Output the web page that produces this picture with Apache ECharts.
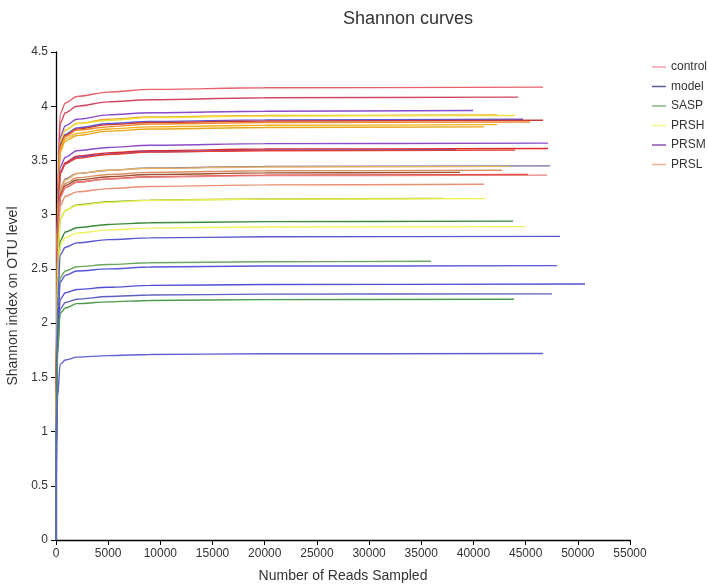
<!DOCTYPE html>
<html>
<head>
<meta charset="utf-8">
<title>Shannon curves</title>
<script src="https://cdn.jsdelivr.net/npm/echarts@6/dist/echarts.min.js"></script>
<style>
  html, body { margin: 0; padding: 0; background: #fff; }
  #chart { width: 708px; height: 584px; }
</style>
</head>
<body>
<div id="chart"></div>
<script>
// groups shown in the legend
const groups = ['control', 'model', 'SASP', 'PRSH', 'PRSM', 'PRSL'];

// reads sampled at each step of a curve (the last point is the sample's depth)
const readSteps = [0, 20, 60, 150, 400, 900, 2000, 5000, 9000, 20000];

// one entry per sample curve
const curveGroup = [
  'control', 'control', 'PRSM', 'PRSL', 'PRSH', 'model', 'control', 'PRSL',
  'PRSL', 'PRSL', 'PRSM', 'control', 'PRSM', 'control', 'model', 'PRSL',
  'PRSL', 'PRSL', 'control', 'control', 'PRSL', 'SASP', 'PRSH', 'SASP',
  'PRSH', 'model', 'SASP', 'model', 'model', 'model', 'SASP', 'model'
];
const curveDepth = [
  46670, 44280, 39970, 42270, 43990, 44760, 46670, 45430,
  42270, 41000, 47150, 47150, 38340, 44000, 47340, 43510,
  42740, 38720, 45230, 47060, 41020, 37090, 41110, 43800,
  44950, 48300, 35940, 48010, 50690, 47530, 43890, 46670
];
const curveShannon = [
  [0, 1.00, 2.09, 3.22, 3.93, 4.03, 4.09, 4.13, 4.155, 4.17, 4.176],
  [0, 0.98, 2.04, 3.14, 3.84, 3.94, 4.00, 4.04, 4.06, 4.078, 4.084],
  [0, 0.95, 1.98, 3.05, 3.72, 3.82, 3.88, 3.92, 3.94, 3.954, 3.96],
  [0, 0.94, 1.96, 3.02, 3.68, 3.78, 3.84, 3.88, 3.90, 3.914, 3.92],
  [0, 0.94, 1.96, 3.01, 3.68, 3.78, 3.84, 3.87, 3.895, 3.91, 3.915],
  [0, 0.93, 1.94, 2.99, 3.65, 3.74, 3.80, 3.84, 3.86, 3.874, 3.88],
  [0, 0.93, 1.94, 2.98, 3.64, 3.73, 3.79, 3.83, 3.85, 3.864, 3.87],
  [0, 0.93, 1.93, 2.97, 3.62, 3.72, 3.78, 3.81, 3.836, 3.85, 3.855],
  [0, 0.92, 1.92, 2.95, 3.60, 3.70, 3.75, 3.79, 3.81, 3.824, 3.83],
  [0, 0.91, 1.91, 2.93, 3.58, 3.68, 3.73, 3.77, 3.79, 3.804, 3.81],
  [0, 0.88, 1.83, 2.82, 3.44, 3.53, 3.59, 3.62, 3.64, 3.655, 3.66],
  [0, 0.87, 1.81, 2.78, 3.39, 3.48, 3.54, 3.57, 3.59, 3.605, 3.61],
  [0, 0.86, 1.80, 2.77, 3.38, 3.47, 3.53, 3.56, 3.58, 3.595, 3.60],
  [0, 0.86, 1.80, 2.77, 3.38, 3.47, 3.52, 3.555, 3.577, 3.59, 3.595],
  [0, 0.83, 1.73, 2.66, 3.24, 3.33, 3.38, 3.41, 3.43, 3.445, 3.45],
  [0, 0.83, 1.72, 2.65, 3.24, 3.32, 3.38, 3.41, 3.428, 3.44, 3.445],
  [0, 0.82, 1.71, 2.63, 3.21, 3.29, 3.34, 3.37, 3.39, 3.405, 3.41],
  [0, 0.81, 1.70, 2.61, 3.19, 3.27, 3.32, 3.35, 3.37, 3.385, 3.39],
  [0, 0.81, 1.69, 2.59, 3.17, 3.25, 3.30, 3.33, 3.35, 3.365, 3.37],
  [0, 0.81, 1.68, 2.59, 3.16, 3.25, 3.30, 3.33, 3.348, 3.36, 3.365],
  [0, 0.79, 1.64, 2.53, 3.08, 3.17, 3.21, 3.24, 3.26, 3.275, 3.28],
  [0, 0.76, 1.58, 2.43, 2.96, 3.04, 3.09, 3.12, 3.134, 3.145, 3.15],
  [0, 0.76, 1.57, 2.42, 2.96, 3.04, 3.085, 3.113, 3.132, 3.143, 3.148],
  [0, 0.71, 1.47, 2.26, 2.76, 2.84, 2.88, 2.91, 2.925, 2.936, 2.94],
  [0, 0.69, 1.45, 2.23, 2.72, 2.79, 2.83, 2.86, 2.876, 2.886, 2.89],
  [0, 0.67, 1.40, 2.16, 2.63, 2.70, 2.74, 2.77, 2.786, 2.796, 2.80],
  [0, 0.62, 1.29, 1.98, 2.42, 2.48, 2.52, 2.54, 2.557, 2.566, 2.57],
  [0, 0.61, 1.27, 1.95, 2.38, 2.44, 2.48, 2.50, 2.517, 2.526, 2.53],
  [0, 0.57, 1.18, 1.82, 2.22, 2.28, 2.31, 2.33, 2.348, 2.356, 2.36],
  [0, 0.54, 1.14, 1.75, 2.13, 2.19, 2.22, 2.245, 2.259, 2.267, 2.27],
  [0, 0.53, 1.11, 1.71, 2.09, 2.14, 2.18, 2.196, 2.209, 2.217, 2.22],
  [0, 0.41, 0.86, 1.32, 1.62, 1.66, 1.686, 1.70, 1.711, 1.717, 1.72]
];

// colours
const legendColors = ['#eea0a4', '#5c5c98', '#86b486', '#f6f68c', '#8a52b0', '#f0b28e'];
const curveColors = [
  '#e8606a', '#d04860', '#8a4cc8', '#f0a020', '#eee040', '#5a5ad8', '#c83838', '#f08a30',
  '#f0b020', '#e8a818', '#8a4cc8', '#e02828', '#7050c0', '#e84030', '#7070a8', '#e8b060',
  '#d89060', '#a05030', '#e03020', '#e88080', '#e89070', '#7ab030', '#f0f050', '#3a8a3a',
  '#f0f060', '#5858d0', '#6aa860', '#5858d8', '#5050d0', '#6060c0', '#4a9a4a', '#6060d0'
];

const chart = echarts.init(document.getElementById('chart'));

const series = curveShannon.map((vals, i) => {
  const xs = readSteps.concat([curveDepth[i]]);
  return {
    name: curveGroup[i],
    type: 'line',
    symbol: 'none',
    smooth: 0.3,
    smoothMonotone: 'x',
    lineStyle: { color: curveColors[i], width: 1.4 },
    itemStyle: { color: curveColors[i] },
    data: vals.map((v, k) => [xs[k], v]),
  };
});

const option = {
  animation: false,
  textStyle: { fontFamily: 'Liberation Sans, Arial, sans-serif' },
  title: {
    text: 'Shannon curves',
    left: 403,
    top: 5,
    textAlign: 'center',
    textStyle: { fontSize: 18, fontWeight: 'normal', color: '#333' },
  },
  legend: {
    orient: 'vertical',
    left: 652,
    top: 61,
    padding: 0,
    icon: 'rect',
    itemWidth: 14,
    itemHeight: 1.5,
    itemGap: 7.5,
    textStyle: { fontSize: 12, color: '#333' },
    data: groups.map((g, i) => ({
      name: g,
      itemStyle: { color: legendColors[i] },
    })),
  },
  grid: {
    left: 56, right: 78, top: 52, bottom: 44,
    outerBoundsMode: 'none',
  },
  xAxis: {
    type: 'value',
    min: 0,
    max: 55000,
    interval: 5000,
    name: 'Number of Reads Sampled',
    nameLocation: 'middle',
    nameGap: 29,
    nameTextStyle: { fontSize: 14, color: '#333' },
    axisLine: { lineStyle: { color: '#000', width: 1.3 } },
    axisTick: { lineStyle: { color: '#000' }, length: 5 },
    axisLabel: { fontSize: 12, color: '#333', margin: 8, formatter: (v) => String(v) },
    splitLine: { show: false },
  },
  yAxis: {
    type: 'value',
    min: 0,
    max: 4.5,
    interval: 0.5,
    name: 'Shannon index on OTU level',
    nameLocation: 'middle',
    nameGap: 35,
    nameTextStyle: { fontSize: 14, color: '#333' },
    axisLine: { show: true, lineStyle: { color: '#000', width: 1.3 } },
    axisTick: { show: true, lineStyle: { color: '#000' }, length: 5 },
    axisLabel: { fontSize: 12, color: '#333' },
    splitLine: { show: false },
  },
  series,
};

chart.setOption(option);
</script>
</body>
</html>
